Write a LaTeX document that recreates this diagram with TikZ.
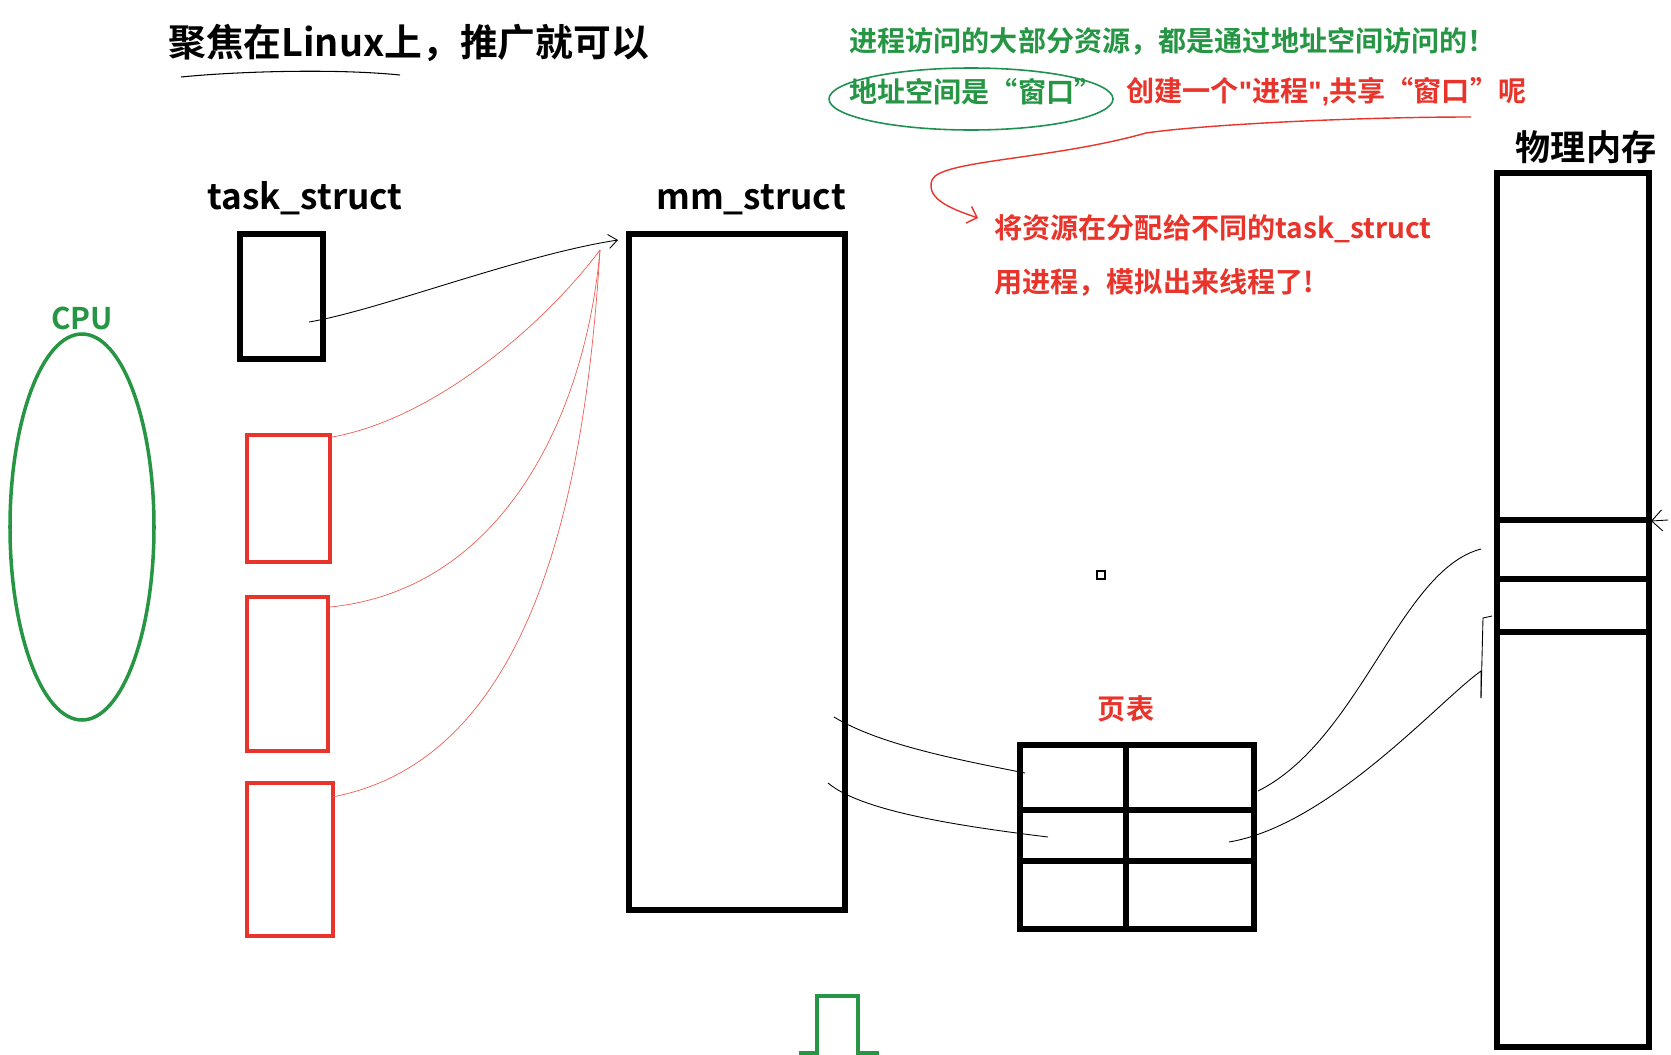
\documentclass[tikz,border=0pt]{standalone}
\usepackage{fontspec}
\setmainfont{Noto Sans CJK SC}[BoldFont={Noto Sans CJK SC Bold}]
\newfontfamily\latinq{Liberation Sans}
\usepackage{xcolor}
\usetikzlibrary{arrows.meta}
\definecolor{inkgreen}{RGB}{38,150,68}
\definecolor{inkred}{RGB}{232,52,42}
\tikzset{
  box/.style={line width=3.6pt},
  redbox/.style={line width=2.6pt,draw=inkred},
  wire/.style={line width=0.5pt},
  redwire/.style={line width=0.4pt,draw=inkred!80},
  lbl/.style={font=\bfseries\fontsize{20}{22}\selectfont},
  note/.style={font=\bfseries\fontsize{16}{18}\selectfont,anchor=west,inner sep=0pt}
}
\begin{document}
\begin{tikzpicture}[x=0.02cm,y=-0.02cm]
  \useasboundingbox (0,0) rectangle (1671,1055);
  \coordinate (TS1) at (240,234);
  \coordinate (TS2) at (323,359);
  \coordinate (MM1) at (629,234);
  \coordinate (MM2) at (845,910);
  \coordinate (PT1) at (1020,745);
  \coordinate (PT2) at (1254,929);
  \coordinate (PM1) at (1497,173);
  \coordinate (PM2) at (1649,1047);
  \coordinate (tsout) at (309,322);
  \coordinate (mmin) at (618,240);
  \coordinate (mmhub) at (600,250);
  \coordinate (r1) at (332,437);
  \coordinate (r2) at (330,607);
  \coordinate (r3) at (332,797);
  \coordinate (mmo1) at (834,717);
  \coordinate (mmo2) at (828,783);
  \coordinate (pti1) at (1025,773);
  \coordinate (pti2) at (1048,837);
  \coordinate (pto1) at (1258,791);
  \coordinate (pto2) at (1229,842);
  \coordinate (pmi1) at (1481,549);
  \coordinate (pmi2) at (1481,698);
  \coordinate (pmi3) at (1492,616);
  \coordinate (pmr) at (1651,521);
  \coordinate (pmrs) at (1668,520);
  \coordinate (ul1) at (1146,133);
  \coordinate (ul2) at (1471,117);
  \coordinate (hook) at (978,218);
  \draw[box] (TS1) rectangle (TS2);
  \draw[redbox] (247,435) rectangle (330,562);
  \draw[redbox] (247,597) rectangle (328,751);
  \draw[redbox] (247,783) rectangle (333,936);
  \draw[line width=2pt,draw=inkgreen] (82,527) ellipse [x radius=72,y radius=193];
  \draw[box] (MM1) rectangle (MM2);
  \draw[box] (PT1) rectangle (PT2);
  \draw[box] (PT1 |- 0,810) -- (PT2 |- 0,810);
  \draw[box] (PT1 |- 0,861) -- (PT2 |- 0,861);
  \draw[box] (1126,745) -- (1126,929);
  \draw[box] (PM1) rectangle (PM2);
  \draw[box] (PM1 |- 0,520) -- (PM2 |- 0,520);
  \draw[box] (PM1 |- 0,579) -- (PM2 |- 0,579);
  \draw[box] (PM1 |- 0,632) -- (PM2 |- 0,632);
  \draw[line width=0.6pt] (1097,571) rectangle (1105,579);
  \draw[line width=2.8pt,draw=inkgreen] (799,1053) -- (817,1053) -- (817,996) -- (858,996) -- (858,1053) -- (879,1053);
  \draw[wire,-{Straight Barb[length=5pt,width=8pt]}] (tsout) .. controls (380,310) and (520,255) .. (mmin);
  \draw[redwire] (r1) .. controls (430,420) and (540,330) .. (mmhub);
  \draw[redwire] (r2) .. controls (500,590) and (585,420) .. (mmhub);
  \draw[redwire] (r3) .. controls (530,760) and (585,500) .. (mmhub);
  \draw[wire] (mmo1) .. controls (880,745) and (960,760) .. (pti1);
  \draw[wire] (mmo2) .. controls (860,810) and (950,825) .. (pti2);
  \draw[wire] (pto1) .. controls (1360,740) and (1400,570) .. (pmi1);
  \draw[wire] (pto2) .. controls (1330,825) and (1440,700) .. (1481,671) -- (pmi2);
  \draw[wire] (pmi2) -- (1483,618) -- (pmi3);
  \draw[wire,-{Straight Barb[length=6pt,width=12pt]}] (pmrs) -- (pmr);
  \draw[line width=0.6pt] (181,77) .. controls (230,72) and (330,68) .. (400,75);
  \draw[line width=0.9pt,draw=inkgreen!80!teal] (971,99) ellipse [x radius=142,y radius=31];
  \draw[line width=0.8pt,draw=inkred] (ul2) .. controls (1350,117) and (1200,125) .. (ul1);
  \draw[line width=0.8pt,draw=inkred,-{Straight Barb[length=5pt,width=10pt]}] (ul1) .. controls (1050,160) and (940,160) .. (932,180) .. controls (925,200) and (955,210) .. (hook);
  \node[font=\bfseries\fontsize{21.5}{23}\selectfont,anchor=west,inner sep=0pt] (title) at (168,43) {聚焦在Linux上，推广就可以};
  \node[lbl] (tslbl) at (305,198) {task\_struct};
  \node[lbl] (mmlbl) at (751,200) {mm\_struct};
  \node[lbl] (pmlbl) at (1586,147) {物理内存};
  \node[font=\bfseries\fontsize{17}{19}\selectfont,text=inkgreen] (cpu) at (82,318) {CPU};
  \node[font=\bfseries\fontsize{16}{18}\selectfont,text=inkred] (ptlbl) at (1126,709) {页表};
  \node[note,text=inkgreen] (g1) at (849,41) {进程访问的大部分资源，都是通过地址空间访问的！};
  \node[note,text=inkgreen] (g2) at (849,92) {地址空间是“窗口”};
  \node[note,text=inkred] (rq) at (1126,92) {创建一个{\latinq\bfseries"}进程{\latinq\bfseries",}共享“窗口”呢};
  \node[note,text=inkred] (rn1) at (994,229) {将资源在分配给不同的task\_struct};
  \node[note,text=inkred] (rn2) at (994,282) {用进程，模拟出来线程了!};
\end{tikzpicture}
\end{document}
